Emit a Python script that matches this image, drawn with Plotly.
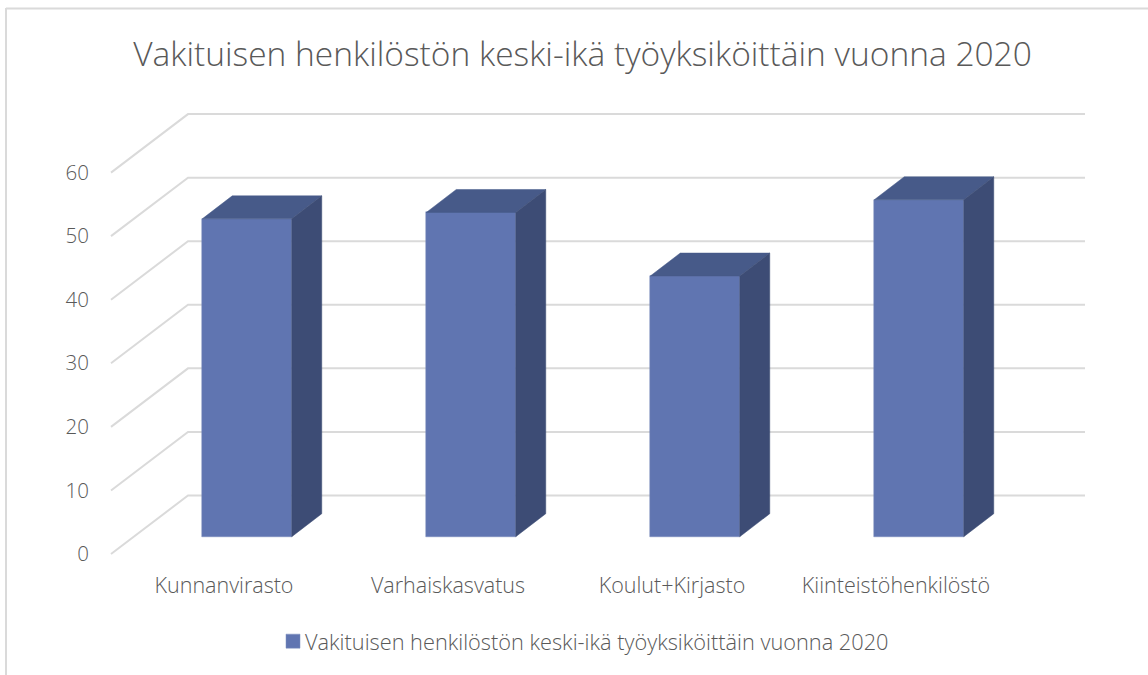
import plotly.graph_objects as go

# Data
categories = ["Kunnanvirasto", "Varhaiskasvatus", "Koulut+Kirjasto", "Kiinteistöhenkilöstö"]
values = [50, 51, 41, 53]
value_ticks = [0, 10, 20, 30, 40, 50, 60]
series_name = "Vakituisen henkilöstön keski-ikä työyksiköittäin vuonna 2020"
title_text = "Vakituisen henkilöstön keski-ikä työyksiköittäin vuonna 2020"

# Pixel layout of the plot area
W, H = 1148, 675
L, R, T, B = 95, 48, 100, 110
PX_PER_CAT = 224.0
PX_PER_UNIT = 6.357
X0_PX = 247.0       # centre of first bar front
Y0_PX = 554.0       # value 0 on the front plane


def xu(px):
    return px / PX_PER_CAT


def yu(px):
    return px / PX_PER_UNIT


x_range = [xu(L - X0_PX), xu(W - R - X0_PX)]
y_range = [yu(Y0_PX - (H - B)), yu(Y0_PX - T)]

# 3D look, expressed in axis units
bar_width = xu(89.5)
bar_lift = yu(17.3)     # bar floor above the front plane
bar_dx, bar_dy = xu(30), yu(23)
wall_left = xu(111 - X0_PX)
wall_back = xu(188 - X0_PX)
wall_right = xu(1085 - X0_PX)
wall_dy = yu(58.5)
label_shift = xu(-23)

FRONT, TOP, SIDE = "#6075B1", "#475A89", "#3D4C75"
EDGE = "#7B8CBC"
GRID, TEXT = "#DADADA", "#595959"
FONT = "Open Sans"

positions = list(range(len(categories)))
fig = go.Figure()

fig.add_trace(go.Bar(
    x=positions, y=values, base=[bar_lift] * len(values), width=bar_width,
    name=series_name, showlegend=True,
    marker=dict(color=FRONT, line=dict(color=EDGE, width=0.5)),
))

for p, v in zip(positions, values):
    x1 = p - bar_width / 2
    x2 = p + bar_width / 2
    y1 = bar_lift
    y2 = bar_lift + v
    fig.add_trace(go.Scatter(
        x=[x1, x1 + bar_dx, x2 + bar_dx, x2, x1], y=[y2, y2 + bar_dy, y2 + bar_dy, y2, y2],
        mode="lines", fill="toself", fillcolor=TOP, line=dict(color=TOP, width=0.5),
        showlegend=False, hoverinfo="skip",
    ))
    fig.add_trace(go.Scatter(
        x=[x2, x2 + bar_dx, x2 + bar_dx, x2, x2], y=[y1, y1 + bar_dy, y2 + bar_dy, y2, y1],
        mode="lines", fill="toself", fillcolor=SIDE, line=dict(color=SIDE, width=0.5),
        showlegend=False, hoverinfo="skip",
    ))

shapes = []
for t in value_ticks:
    shapes.append(dict(
        type="path", layer="below", xref="x", yref="y",
        path=f"M{wall_left},{t} L{wall_back},{t + wall_dy} L{wall_right},{t + wall_dy}",
        line=dict(color=GRID, width=2),
    ))
# chart frame: left and top edges only
shapes.append(dict(type="line", xref="paper", yref="paper", layer="below",
                   x0=(6 - L) / (W - L - R), x1=(6 - L) / (W - L - R),
                   y0=(H - B - H) / (H - T - B), y1=(H - B - 8) / (H - T - B),
                   line=dict(color=GRID, width=2)))
shapes.append(dict(type="line", xref="paper", yref="paper", layer="below",
                   x0=(6 - L) / (W - L - R), x1=(W - L) / (W - L - R),
                   y0=(H - B - 8.5) / (H - T - B), y1=(H - B - 8.5) / (H - T - B),
                   line=dict(color=GRID, width=2)))

fig.update_layout(
    width=W, height=H, autosize=False,
    margin=dict(l=L, r=R, t=T, b=B),
    paper_bgcolor="white", plot_bgcolor="rgba(0,0,0,0)",
    font=dict(family=FONT, color=TEXT),
    title=dict(text=title_text, x=582.5 / W, xanchor="center", y=1 - 54 / H, yanchor="middle",
               font=dict(family=FONT, size=33.5, color=TEXT, weight=300)),
    bargap=0,
    shapes=shapes,
    showlegend=True,
    legend=dict(orientation="h", x=(265 - L) / (W - L - R), xanchor="left",
                y=(H - B - 641.5) / (H - T - B), yanchor="middle",
                font=dict(family=FONT, size=21.75, color=TEXT, weight=300),
                bgcolor="rgba(0,0,0,0)"),
    xaxis=dict(range=x_range, showgrid=False, zeroline=False, showline=False,
               tickmode="array", tickvals=[p + label_shift for p in positions],
               ticktext=categories, ticks="", ticklabelstandoff=5,
               tickfont=dict(family=FONT, size=21.5, color=TEXT, weight=300)),
    yaxis=dict(range=y_range, showgrid=False, zeroline=False, showline=False,
               tickmode="array", tickvals=value_ticks, ticktext=[str(t) for t in value_ticks],
               ticks="", ticklabelstandoff=5,
               tickfont=dict(family=FONT, size=20.5, color=TEXT, weight=300)),
)

# The page's default body margin would shift the 1148x675 figure; the legend swatch
# sits closer to its text in the reference.
post = """
document.body.style.margin = '0';
document.body.style.overflow = 'hidden';
document.querySelectorAll('.legend .legendsymbols').forEach(function (g) {
  g.setAttribute('transform', 'translate(8,0)');
  g.querySelectorAll('.legendpoints path').forEach(function (p) {
    p.setAttribute('d', 'M7,7H-7V-7H7Z');
  });
});
"""
fig.write_html("out.html", post_script=post, config={"displayModeBar": False})
